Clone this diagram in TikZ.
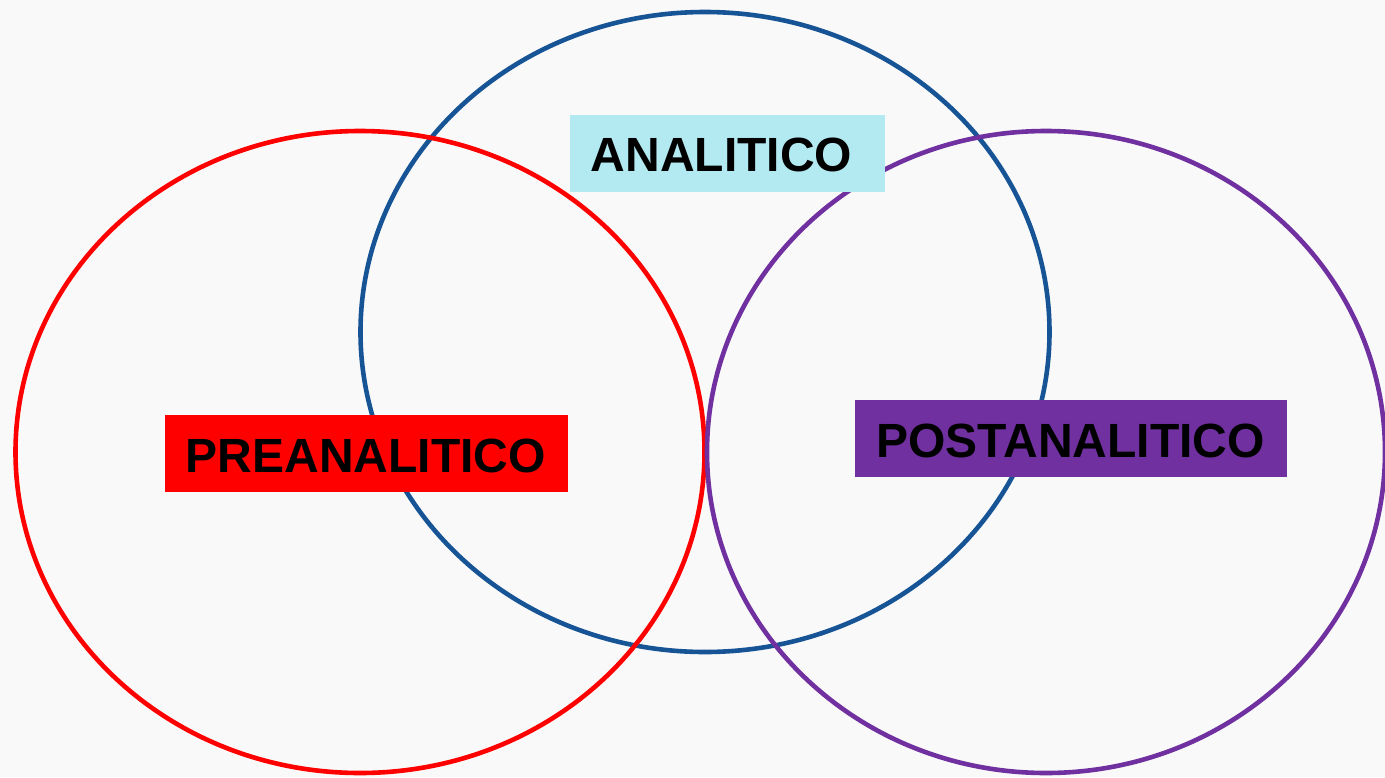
\documentclass[tikz,border=0pt]{standalone}
\usepackage{fontspec}
\setmainfont{Liberation Sans}
\definecolor{bg}{HTML}{F9F9F9}
\definecolor{redc}{HTML}{FF0000}
\definecolor{bluec}{HTML}{165496}
\definecolor{purplec}{HTML}{7030A0}
\definecolor{cyanbox}{HTML}{B3E9F1}
\begin{document}
\begin{tikzpicture}[x=1pt,y=-1pt,
  ring/.style={line width=4.6pt},
  labelbox/.style={draw=none,inner sep=0pt,minimum width=#1,anchor=north west},
  lbl/.style={inner sep=0pt,anchor=base west,font=\bfseries\fontsize{48}{50}\selectfont,text=black}]
\useasboundingbox (0,0) rectangle (1385,777);
\fill[bg] (0,0) rectangle (1385,777);
\begin{scope}
\clip (0,0) rectangle (1385,777);
\draw[ring,bluec] (705,332) ellipse [x radius=344.5, y radius=320];
\draw[ring,redc] (360,452) ellipse [x radius=344.5, y radius=321];
\draw[ring,purplec] (1046,452) ellipse [x radius=339, y radius=321];
\end{scope}
\node[labelbox=315pt,minimum height=77pt,fill=cyanbox] (anabox) at (570,115) {};
\node[lbl] (ana) at (590.5,171) {ANALITICO};
\node[labelbox=403pt,minimum height=77pt,fill=redc] (prebox) at (165,415) {};
\node[lbl] (pre) at (185.5,472) {PREANALITICO};
\node[labelbox=432pt,minimum height=77pt,fill=purplec] (postbox) at (855,400) {};
\node[lbl] (post) at (876,457) {POSTANALITICO};
\end{tikzpicture}
\end{document}
